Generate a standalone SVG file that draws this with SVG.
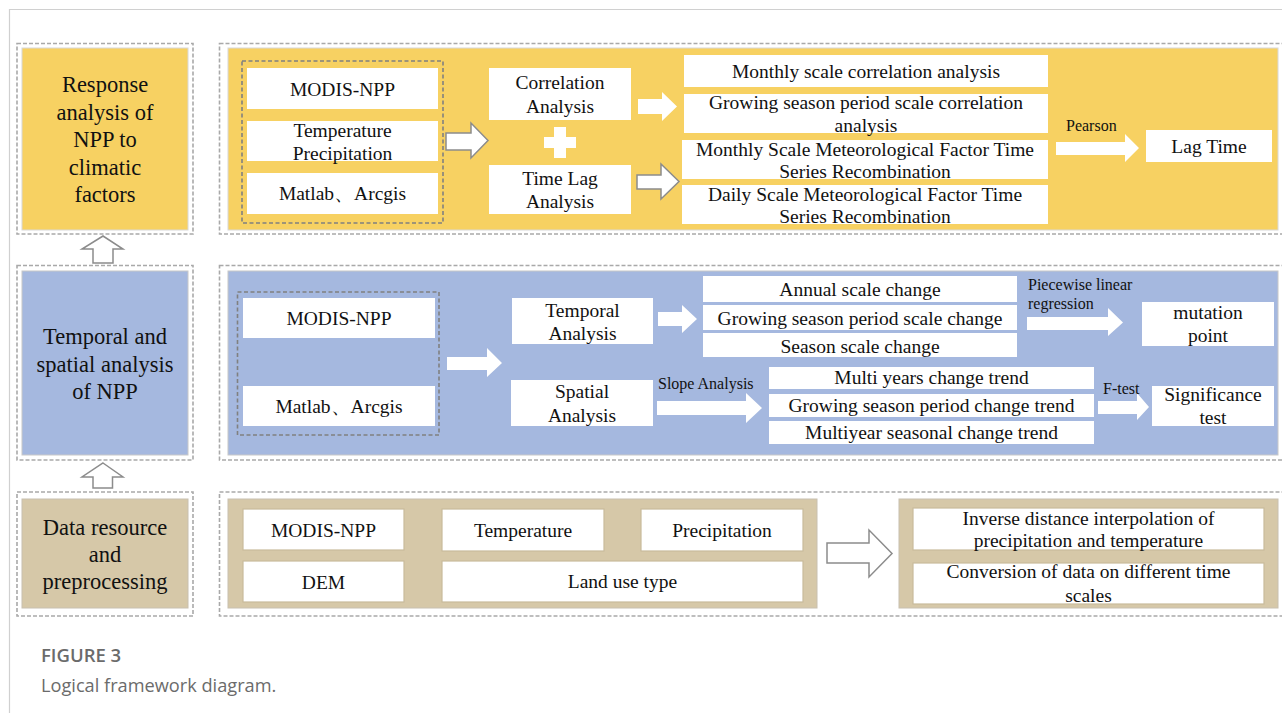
<svg xmlns="http://www.w3.org/2000/svg" width="1282" height="713" viewBox="0 0 1282 713">
<style>
.frame{fill:none;stroke:#d0d0d0;stroke-width:1.2}
.odash{fill:none;stroke:#a9a9a9;stroke-width:1.6;stroke-dasharray:4 2}
.idash{fill:none;stroke:#808080;stroke-width:1.6;stroke-dasharray:4 2.5}
.yel{fill:#f7d162;stroke:#d8d8d8;stroke-width:1}
.blu{fill:#a5b8df;stroke:#c8c8c8;stroke-width:1}
.tan{fill:#d6c8a8;stroke:#c8c0b0;stroke-width:1}
.wb{fill:#ffffff}
.wt{fill:#ffffff;stroke:#c9bb9c;stroke-width:1.2}
.t{font-family:"Liberation Serif","Times New Roman",serif;font-size:19.5px;fill:#111;text-anchor:middle}
.big{font-family:"Liberation Serif","Times New Roman",serif;font-size:22.5px;fill:#111;text-anchor:middle}
.sm{font-family:"Liberation Serif","Times New Roman",serif;font-size:16px;fill:#111}
.hol{fill:#ffffff;stroke:#8c8c8c;stroke-width:1.5;stroke-linejoin:miter}
.sol{fill:#ffffff}
.cap1{font-family:"Open Sans","Liberation Sans",sans-serif;font-size:18.5px;font-weight:600;fill:#6b6b6b}
.cap2{font-family:"Open Sans","Liberation Sans",sans-serif;font-size:18.2px;fill:#6b6b6b}
</style>
<rect width="1282" height="713" fill="#ffffff"/>
<path class="frame" d="M9.5 713 V9.5 H1282"/>

<!-- Row 1: response analysis -->
<g id="row1-label">
<rect class="odash" x="17" y="43.5" width="176" height="190.5"/>
<rect class="yel" x="22" y="48" width="166" height="182"/>
<text class="big" x="105" y="92">Response</text>
<text class="big" x="105" y="119.5">analysis of</text>
<text class="big" x="105" y="147">NPP to</text>
<text class="big" x="105" y="174.5">climatic</text>
<text class="big" x="105" y="202">factors</text>
</g>
<g id="row1-panel">
<rect class="odash" x="219.5" y="43.5" width="1070" height="190.5"/>
<rect class="yel" x="228" y="48" width="1050" height="182"/>
</g>
<g id="row1-inputs">
<rect class="idash" x="242" y="61" width="201" height="162"/>
<rect class="wb" x="247" y="68" width="191" height="41"/>
<text class="t" x="342.5" y="96">MODIS-NPP</text>
<rect class="wb" x="247" y="121" width="191" height="40"/>
<text class="t" x="342.5" y="137">Temperature</text>
<text class="t" x="342.5" y="159.5">Precipitation</text>
<rect class="wb" x="247" y="173" width="191" height="41"/>
<text class="t" x="342.5" y="200">Matlab、Arcgis</text>
</g>
<g id="correlation">
<rect class="wb" x="489" y="68" width="142" height="52"/>
<text class="t" x="560" y="89">Correlation</text>
<text class="t" x="560" y="113">Analysis</text>
</g>
<g id="plus">
<rect class="wb" x="544" y="137" width="32" height="11"/>
<rect class="wb" x="554" y="127" width="12" height="31"/>
</g>
<g id="timelag">
<rect class="wb" x="489" y="165" width="142" height="49"/>
<text class="t" x="560" y="184.5">Time Lag</text>
<text class="t" x="560" y="208">Analysis</text>
</g>
<g id="corr-results">
<rect class="wb" x="684" y="55" width="364" height="32"/>
<text class="t" x="866" y="77.5">Monthly scale correlation analysis</text>
<rect class="wb" x="684" y="94" width="364" height="39"/>
<text class="t" x="866" y="108.5">Growing season period scale correlation</text>
<text class="t" x="866" y="131.5">analysis</text>
</g>
<g id="lag-results">
<rect class="wb" x="682" y="140" width="366" height="39"/>
<text class="t" x="865" y="155.5">Monthly Scale Meteorological Factor Time</text>
<text class="t" x="865" y="178">Series Recombination</text>
<rect class="wb" x="682" y="185" width="366" height="39"/>
<text class="t" x="865" y="200.5">Daily Scale Meteorological Factor Time</text>
<text class="t" x="865" y="223">Series Recombination</text>
</g>
<g id="lagtime">
<rect class="wb" x="1146" y="130" width="126" height="32"/>
<text class="t" x="1209" y="153">Lag Time</text>
</g>

<!-- Row 2: temporal and spatial -->
<g id="row2-label">
<rect class="odash" x="17" y="265.5" width="176" height="194.5"/>
<rect class="blu" x="22" y="271" width="166" height="184"/>
<text class="big" x="105" y="344">Temporal and</text>
<text class="big" x="105" y="371.5">spatial analysis</text>
<text class="big" x="105" y="399">of NPP</text>
</g>
<g id="row2-panel">
<rect class="odash" x="219.5" y="265.5" width="1070" height="194.5"/>
<rect class="blu" x="228" y="271" width="1050" height="184"/>
</g>
<g id="row2-inputs">
<rect class="idash" x="237.5" y="292" width="201.5" height="143"/>
<rect class="wb" x="243" y="298" width="192" height="40"/>
<text class="t" x="339" y="325">MODIS-NPP</text>
<rect class="wb" x="243" y="386" width="192" height="40"/>
<text class="t" x="339" y="413">Matlab、Arcgis</text>
</g>
<g id="temporal">
<rect class="wb" x="512" y="298" width="141" height="46"/>
<text class="t" x="582.5" y="316.5">Temporal</text>
<text class="t" x="582.5" y="339.5">Analysis</text>
</g>
<g id="spatial">
<rect class="wb" x="511" y="380" width="142" height="46"/>
<text class="t" x="582" y="398">Spatial</text>
<text class="t" x="582" y="421.5">Analysis</text>
</g>
<g id="temporal-results">
<rect class="wb" x="703" y="276" width="314" height="26"/>
<text class="t" x="860" y="296">Annual scale change</text>
<rect class="wb" x="703" y="305" width="314" height="25"/>
<text class="t" x="860" y="324.5">Growing season period scale change</text>
<rect class="wb" x="703" y="333" width="314" height="24"/>
<text class="t" x="860" y="352.5">Season scale change</text>
</g>
<g id="spatial-results">
<rect class="wb" x="769" y="367" width="325" height="22"/>
<text class="t" x="931.5" y="384">Multi years change trend</text>
<rect class="wb" x="769" y="394" width="325" height="23"/>
<text class="t" x="931.5" y="411.5">Growing season period change trend</text>
<rect class="wb" x="769" y="421" width="325" height="23"/>
<text class="t" x="931.5" y="438.5">Multiyear seasonal change trend</text>
</g>
<g id="mutation">
<rect class="wb" x="1142" y="302" width="132" height="44"/>
<text class="t" x="1208" y="318.5">mutation</text>
<text class="t" x="1208" y="342">point</text>
</g>
<g id="significance">
<rect class="wb" x="1152" y="386" width="122" height="40"/>
<text class="t" x="1213" y="400.5">Significance</text>
<text class="t" x="1213" y="423.5">test</text>
</g>

<!-- Row 3: data -->
<g id="row3-label">
<rect class="odash" x="17" y="492" width="176" height="124"/>
<rect class="tan" x="22" y="499" width="166" height="109"/>
<text class="big" x="105" y="535">Data resource</text>
<text class="big" x="105" y="562">and</text>
<text class="big" x="105" y="589">preprocessing</text>
</g>
<g id="row3-panel">
<rect class="odash" x="219.5" y="492" width="1070" height="124"/>
</g>
<g id="data-sources">
<rect class="tan" x="228" y="499" width="589" height="109"/>
<rect class="wt" x="243" y="509" width="161" height="41"/>
<text class="t" x="323.5" y="537">MODIS-NPP</text>
<rect class="wt" x="243" y="561" width="161" height="41"/>
<text class="t" x="323.5" y="588.5">DEM</text>
<rect class="wt" x="442" y="509" width="162" height="42"/>
<text class="t" x="523" y="537">Temperature</text>
<rect class="wt" x="641" y="509" width="162" height="42"/>
<text class="t" x="722" y="537">Precipitation</text>
<rect class="wt" x="442" y="561" width="361" height="41"/>
<text class="t" x="622.5" y="588">Land use type</text>
</g>
<g id="preprocessing">
<rect class="tan" x="899" y="499" width="379" height="109"/>
<rect class="wt" x="913" y="508" width="351" height="42"/>
<text class="t" x="1088.5" y="525">Inverse distance interpolation of</text>
<text class="t" x="1088.5" y="547">precipitation and temperature</text>
<rect class="wt" x="913" y="563" width="351" height="41"/>
<text class="t" x="1088.5" y="577.5">Conversion of data on different time</text>
<text class="t" x="1088.5" y="602">scales</text>
</g>

<!-- Connectors -->
<g id="connectors">
<path class="hol" d="M103 236 L123 249 L113 249 L113 263 L93 263 L93 249 L82 249 Z"/>
<path class="hol" d="M103 463 L123 477 L112.5 477 L112.5 488 L93 488 L93 477 L82 477 Z"/>
<path class="hol" d="M446 133 L471 133 L471 123 L488 140.5 L471 158 L471 150 L446 150 Z"/>
<path class="sol" d="M638 99 L662 99 L662 92 L677 106.5 L662 121 L662 114 L638 114 Z"/>
<path class="hol" d="M637 175 L661 175 L661 164 L679 181.5 L661 199 L661 189 L637 189 Z"/>
<path class="sol" d="M1056 142 L1125 142 L1125 134 L1139 148 L1125 162 L1125 155 L1056 155 Z"/>
<text class="sm" x="1066" y="131">Pearson</text>
<path class="sol" d="M447 357 L487 357 L487 348 L502 363 L487 377 L487 370 L447 370 Z"/>
<path class="sol" d="M658 312 L682 312 L682 305 L697 319 L682 333 L682 326 L658 326 Z"/>
<path class="sol" d="M657 401 L746 401 L746 393 L762 408 L746 423 L746 415 L657 415 Z"/>
<text class="sm" x="658" y="389">Slope Analysis</text>
<path class="sol" d="M1027 317 L1108 317 L1108 308 L1123 322.5 L1108 336 L1108 330 L1027 330 Z"/>
<text class="sm" x="1028" y="289.5">Piecewise linear</text>
<text class="sm" x="1028" y="308.5">regression</text>
<path class="sol" d="M1098 401 L1137 401 L1137 393 L1149 407 L1137 420 L1137 414 L1098 414 Z"/>
<text class="sm" x="1103" y="393.5">F-test</text>
<path class="hol" d="M827 543 L869 543 L869 530 L892 553.5 L869 577 L869 563 L827 563 Z"/>
</g>

<g id="caption">
<text class="cap1" x="41" y="662">FIGURE 3</text>
<text class="cap2" x="41" y="692">Logical framework diagram.</text>
</g>
</svg>
